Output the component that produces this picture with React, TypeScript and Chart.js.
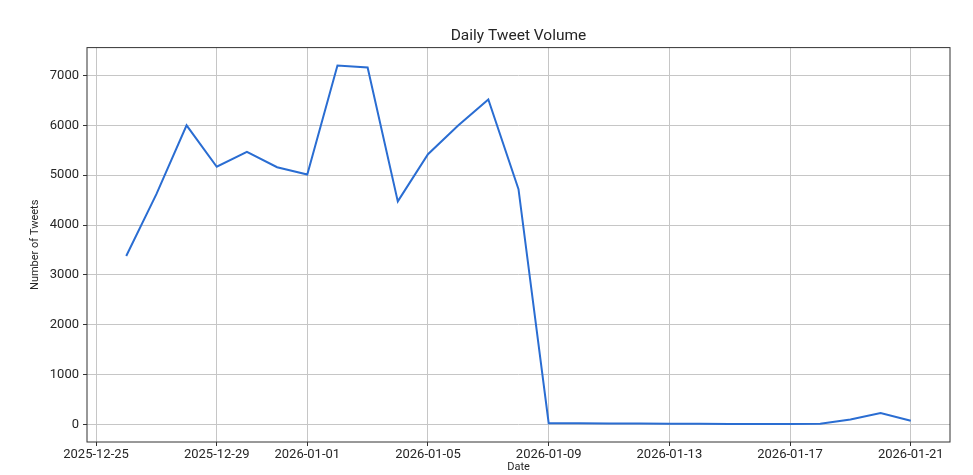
import React, { useEffect, useRef } from "react";
import { Chart, registerables } from "chart.js";

Chart.register(...registerables);

const dates: string[] = [
  "2025-12-26", "2025-12-27", "2025-12-28", "2025-12-29", "2025-12-30", "2025-12-31",
  "2026-01-01", "2026-01-02", "2026-01-03", "2026-01-04", "2026-01-05", "2026-01-06",
  "2026-01-07", "2026-01-08", "2026-01-09", "2026-01-10", "2026-01-11", "2026-01-12",
  "2026-01-13", "2026-01-14", "2026-01-15", "2026-01-16", "2026-01-17", "2026-01-18",
  "2026-01-19", "2026-01-20", "2026-01-21",
];
const tweetCounts: number[] = [
  3380, 4620, 6000, 5170, 5470, 5160,
  5015, 7200, 7160, 4475, 5420, 5995,
  6520, 4720, 25, 22, 20, 17,
  14, 12, 10, 8, 7, 15,
  100, 230, 72,
];
const xTickDates: string[] = [
  "2025-12-25", "2025-12-29", "2026-01-01", "2026-01-05",
  "2026-01-09", "2026-01-13", "2026-01-17", "2026-01-21",
];
const yTicks: number[] = [0, 1000, 2000, 3000, 4000, 5000, 6000, 7000];

const DAY = 86400000;
const origin = Date.UTC(2025, 11, 25);
const toDay = (s: string) => {
  const [y, m, d] = s.split("-").map(Number);
  return (Date.UTC(y, m - 1, d) - origin) / DAY;
};
const fromDay = (n: number) => {
  const dt = new Date(origin + Math.round(n) * DAY);
  const p = (v: number) => String(v).padStart(2, "0");
  return `${dt.getUTCFullYear()}-${p(dt.getUTCMonth() + 1)}-${p(dt.getUTCDate())}`;
};

const FONT = "Roboto, 'Open Sans', sans-serif";
const TEXT = "#262626";

const frame = {
  id: "frame",
  afterDraw(chart: any) {
    const { ctx, chartArea: a } = chart;
    ctx.save();
    ctx.strokeStyle = "#333333";
    ctx.lineWidth = 1;
    ctx.strokeRect(a.left, a.top, a.right - a.left, a.bottom - a.top);
    ctx.restore();
  },
};

export default function App() {
  const ref = useRef<HTMLCanvasElement | null>(null);
  useEffect(() => {
    document.body.style.margin = "0";
    const xs = dates.map(toDay);
    const data = xs.map((x, i) => ({ x, y: tweetCounts[i] }));
    const xMin = Math.min(...xs), xMax = Math.max(...xs);
    const xPad = (xMax - xMin) * 0.05;
    const yMin = Math.min(...tweetCounts), yMax = Math.max(...tweetCounts);
    const yPad = (yMax - yMin) * 0.05;
    const chart = new Chart(ref.current as HTMLCanvasElement, {
      type: "line",
      data: {
        datasets: [
          {
            data,
            borderColor: "#2a6dd2",
            borderWidth: 2,
            pointRadius: 0,
            tension: 0,
            fill: false,
          },
        ],
      },
      options: {
        animation: false,
        responsive: false,
        layout: { padding: { left: 0, right: 23, top: 0, bottom: 0 } },
        plugins: {
          legend: { display: false },
          tooltip: { enabled: false },
          title: {
            display: true,
            fullSize: false,
            text: "Daily Tweet Volume",
            color: TEXT,
            font: { family: FONT, size: 15.5, weight: "normal" },
            padding: { top: 27, bottom: 2 },
          },
        },
        scales: {
          x: {
            type: "linear",
            min: xMin - xPad,
            max: xMax + xPad,
            afterBuildTicks: (s: any) => {
              s.ticks = xTickDates.map((d) => ({ value: toDay(d) }));
            },
            afterFit: (s: any) => {
              s.height = 33;
            },
            ticks: {
              callback: (v: any) => fromDay(Number(v)),
              color: TEXT,
              font: { family: FONT, size: 13 },
              padding: 1,
              maxRotation: 0,
              autoSkip: false,
            },
            grid: {
              color: "#c6c6c6",
              lineWidth: 1,
              drawTicks: true,
              tickLength: 4,
              tickColor: "#333333",
            },
            border: { display: false },
            title: {
              display: true,
              text: "Date",
              color: TEXT,
              font: { family: FONT, size: 11 },
              padding: { top: 0, bottom: 1 },
            },
          },
          y: {
            type: "linear",
            min: yMin - yPad,
            max: yMax + yPad,
            afterBuildTicks: (s: any) => {
              s.ticks = yTicks.map((v) => ({ value: v }));
            },
            afterFit: (s: any) => {
              s.width = 87;
            },
            ticks: {
              callback: (v: any) => String(v),
              color: TEXT,
              font: { family: FONT, size: 13 },
              padding: 4,
            },
            grid: {
              color: "#c6c6c6",
              lineWidth: 1,
              drawTicks: true,
              tickLength: 4,
              tickColor: "#333333",
            },
            border: { display: false },
            title: {
              display: true,
              text: "Number of Tweets",
              color: TEXT,
              font: { family: FONT, size: 11 },
              padding: { top: 29, bottom: 0 },
            },
          },
        },
      },
      plugins: [frame],
    });
    return () => chart.destroy();
  }, []);
  return (
    <div style={{ position: "absolute", left: 0, top: 0, width: 973, height: 475, background: "#fff" }}>
      <canvas ref={ref} width={973} height={475} style={{ display: "block", width: 973, height: 475 }} />
    </div>
  );
}
